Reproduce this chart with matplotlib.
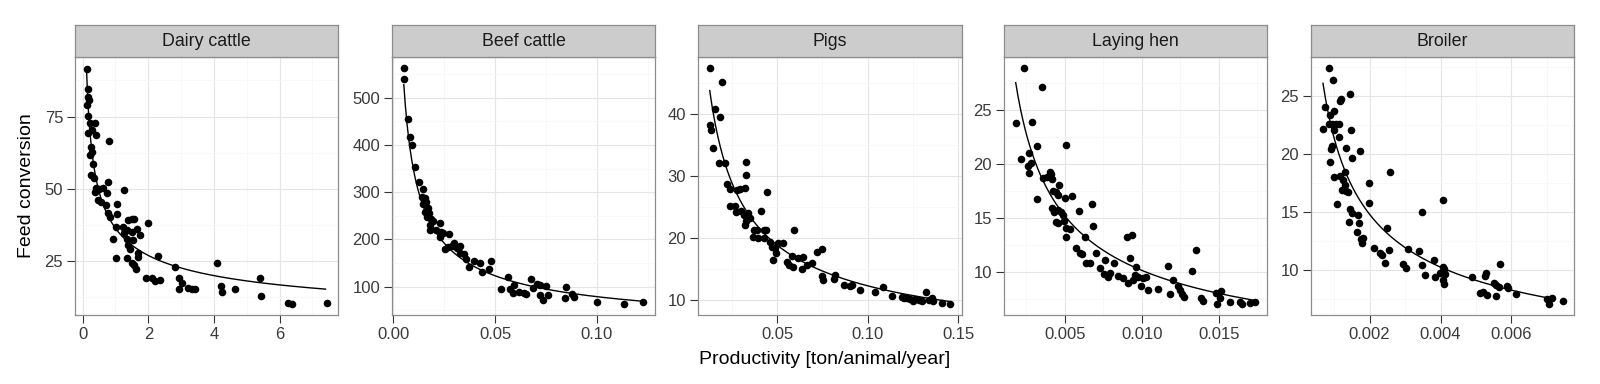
import numpy as np
import matplotlib
matplotlib.use("Agg")
import matplotlib.pyplot as plt
from matplotlib.ticker import MultipleLocator

plt.rcParams['font.family'] = ['Liberation Sans', 'DejaVu Sans']

#%% data
titles = ['Dairy cattle', 'Beef cattle', 'Pigs', 'Laying hen', 'Broiler']

dairy_x = [0.12, 0.17, 0.15, 0.2, 0.14, 0.17, 0.22, 0.38, 0.17, 0.27, 0.41, 0.81, 0.24, 0.27, 0.22,
           0.31, 0.24, 0.35, 0.78, 1.27, 0.41, 0.5, 0.63, 0.38, 0.73, 0.48, 0.55, 1.04, 0.71, 0.78,
           1.04, 0.83, 2.0, 1.01, 1.24, 1.5, 1.55, 1.39, 1.65, 1.34, 1.5, 1.75, 1.26, 1.34, 0.92,
           1.53, 1.39, 1.45, 1.7, 2.31, 1.02, 1.36, 1.68, 1.5, 4.09, 1.55, 2.82, 1.63, 1.93, 2.11,
           2.21, 2.36, 2.95, 3.02, 2.92, 3.22, 3.33, 3.41, 4.21, 4.24, 4.65, 5.41, 5.43, 6.25, 6.38, 7.43]
dairy_y = [91.4, 84.4, 81.9, 80.8, 78.9, 75.2, 72.7, 72.9, 69.5, 70.4, 68.7, 66.7, 64.6, 62.9, 61.8,
           58.6, 54.8, 53.7, 52.5, 49.7, 50.2, 49.9, 50.2, 49.1, 48.5, 46.2, 45.6, 44.8, 44.5, 41.8,
           41.4, 40.2, 38.4, 37.0, 36.7, 39.5, 39.5, 39.3, 36.1, 35.8, 35.3, 34.1, 34.7, 32.6, 32.6,
           32.4, 30.6, 29.1, 27.8, 26.8, 26.0, 26.0, 26.4, 24.3, 24.3, 23.7, 23.2, 22.2, 19.4, 19.4,
           18.3, 18.7, 19.4, 17.6, 15.3, 15.9, 15.6, 15.3, 16.5, 14.3, 15.6, 19.1, 13.0, 10.5, 10.3, 10.5]

beef_x = [0.0054, 0.0052, 0.0072, 0.0082, 0.0093, 0.0106, 0.0126, 0.0145, 0.0142, 0.0154, 0.0163,
          0.0147, 0.017, 0.0158, 0.0175, 0.0167, 0.0186, 0.0196, 0.018, 0.0229, 0.0183, 0.0208,
          0.0235, 0.0245, 0.0229, 0.0273, 0.0252, 0.0268, 0.0297, 0.0289, 0.0314, 0.033, 0.0327,
          0.0346, 0.0359, 0.0371, 0.0395, 0.0425, 0.0436, 0.0469, 0.048, 0.0531, 0.0562, 0.0575,
          0.0588, 0.0595, 0.0616, 0.0641, 0.0654, 0.0676, 0.0686, 0.0706, 0.0722, 0.0735, 0.0752,
          0.0758, 0.0722, 0.0842, 0.0848, 0.0877, 0.0889, 0.1, 0.1134, 0.1229]
beef_y = [562, 539, 455, 416, 400, 354, 321, 307, 290, 287, 280, 275, 266, 259, 255, 248, 243, 238,
          231, 235, 219, 220, 216, 213, 206, 212, 179, 183, 193, 186, 181, 187, 171, 169, 158, 142,
          155, 151, 130, 137, 154, 96, 121, 96, 87, 104, 89, 87, 84, 116, 97, 106, 83, 72, 101, 83,
          104, 75, 99, 85, 78, 68, 63, 67]

pigs_x = [0.0127, 0.0195, 0.0154, 0.0186, 0.013, 0.0136, 0.0145, 0.0178, 0.021, 0.033, 0.0326,
          0.0223, 0.0241, 0.0278, 0.0293, 0.0321, 0.0445, 0.0238, 0.0265, 0.0274, 0.0302, 0.0315,
          0.0339, 0.0349, 0.0326, 0.0321, 0.0408, 0.0371, 0.0389, 0.0426, 0.0437, 0.0367, 0.0395,
          0.0426, 0.0459, 0.0469, 0.0487, 0.0506, 0.0533, 0.0496, 0.0478, 0.0552, 0.0567, 0.058,
          0.0585, 0.0592, 0.0616, 0.0635, 0.0644, 0.0663, 0.069, 0.0718, 0.0746, 0.0746, 0.0751,
          0.082, 0.0814, 0.087, 0.0903, 0.0912, 0.0958, 0.1042, 0.1084, 0.1134, 0.119, 0.1199,
          0.1217, 0.1236, 0.1251, 0.1264, 0.1283, 0.1301, 0.1325, 0.1338, 0.1356, 0.1361, 0.1411, 0.1457]
pigs_y = [47.4, 45.2, 40.8, 39.6, 38.3, 37.4, 34.6, 32.1, 32.2, 32.3, 30.2, 28.7, 28.0, 27.8, 27.9,
          28.1, 27.5, 25.2, 25.2, 24.3, 24.4, 23.7, 24.0, 23.2, 22.7, 22.1, 24.4, 21.3, 21.4, 21.4,
          21.3, 20.2, 20.0, 20.1, 19.4, 18.6, 18.4, 19.2, 19.2, 17.7, 16.5, 16.2, 15.7, 17.1, 15.4,
          21.3, 16.8, 15.0, 17.0, 15.7, 16.0, 17.8, 18.2, 13.9, 13.2, 14.1, 13.5, 12.5, 12.3, 12.5,
          11.7, 11.4, 12.2, 10.7, 10.6, 10.3, 10.4, 10.2, 9.9, 10.2, 10.0, 9.9, 11.4, 10.0, 10.3,
          9.9, 9.5, 9.4]

hen_x = [0.00232, 0.00351, 0.0018, 0.00288, 0.00216, 0.00264, 0.00281, 0.0026, 0.00266, 0.00318,
         0.00509, 0.00318, 0.00357, 0.00383, 0.00405, 0.00411, 0.00418, 0.00422, 0.00439, 0.00461,
         0.00457, 0.00498, 0.00545, 0.00418, 0.00426, 0.00455, 0.00476, 0.00487, 0.00439, 0.00455,
         0.00491, 0.00509, 0.00535, 0.00504, 0.00591, 0.00628, 0.00677, 0.00682, 0.00574, 0.006,
         0.00613, 0.00634, 0.0066, 0.00703, 0.00725, 0.00751, 0.00758, 0.00779, 0.0079, 0.00816,
         0.00844, 0.00877, 0.00903, 0.00937, 0.00924, 0.00909, 0.00942, 0.00963, 0.00953, 0.00974,
         0.00996, 0.01007, 0.01028, 0.01039, 0.01104, 0.01169, 0.01184, 0.01201, 0.01234, 0.01245,
         0.01262, 0.01271, 0.01327, 0.01353, 0.01385, 0.01396, 0.01483, 0.01511, 0.01489, 0.01504,
         0.0157, 0.01638, 0.01652, 0.01699, 0.01736]
hen_y = [28.87, 27.1, 23.76, 23.86, 20.5, 20.98, 20.12, 19.83, 19.12, 21.69, 21.72, 16.71, 18.66,
         18.81, 19.28, 19.06, 18.6, 17.52, 17.42, 18.04, 17.11, 16.8, 17.0, 15.88, 15.57, 15.72,
         15.57, 15.26, 14.64, 14.55, 14.73, 14.05, 13.93, 13.18, 15.66, 13.18, 16.28, 14.27, 12.16,
         11.76, 11.64, 10.77, 10.83, 11.7, 10.31, 9.78, 11.08, 9.47, 9.91, 10.77, 9.6, 9.38, 13.18,
         13.4, 11.24, 8.92, 9.23, 10.4, 9.69, 9.47, 8.67, 9.38, 9.53, 8.3, 8.39, 10.56, 7.9, 9.23,
         8.67, 8.3, 7.93, 7.62, 10.06, 12.0, 7.58, 7.31, 7.99, 8.24, 7.0, 7.52, 7.15, 7.21, 7.0,
         7.12, 7.21]

broiler_x = [0.000864, 0.000967, 0.001437, 0.001192, 0.001155, 0.000732, 0.000995, 0.000892,
             0.000845, 0.000939, 0.001061, 0.001146, 0.000676, 0.000995, 0.001484, 0.001127,
             0.000939, 0.000911, 0.001333, 0.001718, 0.001502, 0.000892, 0.000995, 0.001174,
             0.001296, 0.001249, 0.001315, 0.001221, 0.001343, 0.00138, 0.002582, 0.001972,
             0.004066, 0.00108, 0.001991, 0.003474, 0.001455, 0.001502, 0.001671, 0.001408,
             0.001709, 0.001643, 0.002488, 0.001756, 0.001812, 0.001784, 0.002113, 0.002282,
             0.002347, 0.002535, 0.002441, 0.002939, 0.003023, 0.00308, 0.00338, 0.003474,
             0.003568, 0.003822, 0.00385, 0.003972, 0.004066, 0.004103, 0.004131, 0.004066,
             0.004085, 0.004883, 0.005117, 0.005192, 0.005258, 0.005277, 0.005305, 0.005512,
             0.005568, 0.005559, 0.005662, 0.005681, 0.005887, 0.005915, 0.006131, 0.007014,
             0.00707, 0.007136, 0.007446]
broiler_y = [27.38, 26.38, 25.14, 24.71, 24.57, 24.02, 23.74, 23.37, 22.59, 22.59, 22.59, 22.59,
             22.13, 22.07, 22.07, 21.5, 20.7, 20.41, 20.55, 20.24, 19.64, 19.32, 18.0, 18.15, 18.49,
             17.77, 17.34, 16.91, 16.86, 16.77, 18.46, 17.54, 16.05, 15.71, 15.77, 14.99, 15.25,
             14.91, 14.76, 14.19, 14.1, 13.27, 13.67, 12.67, 12.75, 12.38, 11.89, 11.46, 11.32,
             11.75, 10.66, 10.52, 10.23, 11.81, 11.67, 10.46, 9.6, 10.89, 9.4, 9.8, 10.32, 10.09,
             9.69, 9.17, 8.83, 9.46, 8.02, 8.17, 9.51, 9.74, 7.88, 8.94, 8.74, 7.79, 8.54, 10.55,
             8.65, 8.45, 7.96, 7.53, 7.1, 7.64, 7.39]

# power-law fit y = a * x^b
fit_a = [36.4, 17.93, 3.0, 0.687, 0.557]
fit_b = [-0.43, -0.643, -0.614, -0.584, -0.528]
fit_xmin = [0.12, 0.0052, 0.0127, 0.0018, 0.000685]
fit_xmax = [7.4, 0.1229, 0.1457, 0.0172, 0.00709]

xs = [dairy_x, beef_x, pigs_x, hen_x, broiler_x]
ys = [dairy_y, beef_y, pigs_y, hen_y, broiler_y]

x_lims = [(-0.234, 7.78), (-0.0006, 0.1286), (0.0062, 0.1522), (0.00104, 0.01812), (0.000347, 0.007765)]
y_lims = [(6.45, 95.6), (40, 586), (7.63, 49.2), (5.98, 29.92), (6.16, 28.36)]
x_major = [2, 0.05, 0.05, 0.005, 0.002]
y_major = [25, 100, 10, 5, 5]
x_fmt = ['{:.0f}', '{:.2f}', '{:.2f}', '{:.3f}', '{:.3f}']

#%% layout in pixels (1600 x 384)
W, H = 1600, 384
panel_lr = [(75, 338), (392, 655), (698, 962), (1004, 1267), (1311, 1574)]
strip_top, panel_top, panel_bot = 25, 57, 315

fig = plt.figure(figsize=(W / 100, H / 100), dpi=100)

for i in range(5):
    l, r = panel_lr[i]
    ax = fig.add_axes([l / W, 1 - panel_bot / H, (r - l) / W, (panel_bot - panel_top) / H])
    ax.set_xlim(*x_lims[i])
    ax.set_ylim(*y_lims[i])
    ax.xaxis.set_major_locator(MultipleLocator(x_major[i]))
    ax.xaxis.set_minor_locator(MultipleLocator(x_major[i] / 2))
    ax.yaxis.set_major_locator(MultipleLocator(y_major[i]))
    ax.yaxis.set_minor_locator(MultipleLocator(y_major[i] / 2))
    fmt = x_fmt[i]
    ax.xaxis.set_major_formatter(plt.FuncFormatter(lambda v, p, f=fmt: f.format(v)))
    ax.yaxis.set_major_formatter(plt.FuncFormatter(lambda v, p: '{:g}'.format(v)))
    ax.grid(which='major', color='#e5e5e5', lw=0.8, zorder=0)
    ax.grid(which='minor', color='#f7f7f7', lw=0.6, zorder=0)
    ax.set_axisbelow(True)
    for s in ax.spines.values():
        s.set_color('#8c8c8c')
        s.set_linewidth(0.9)
    ax.tick_params(which='major', length=5.5, width=0.8, color='#333333', labelsize=12,
                   labelcolor='#3a3a3a', pad=3)
    ax.tick_params(which='minor', length=0)

    ax.scatter(xs[i], ys[i], s=30, color='black', linewidths=0, zorder=3)
    xc = np.linspace(fit_xmin[i], fit_xmax[i], 300)
    ax.plot(xc, fit_a[i] * xc ** fit_b[i], color='black', lw=1.0, zorder=4)

    sax = fig.add_axes([l / W, 1 - panel_top / H, (r - l) / W, (panel_top - strip_top) / H])
    sax.set_facecolor('#cccccc')
    sax.set_xticks([])
    sax.set_yticks([])
    for s in sax.spines.values():
        s.set_color('#8c8c8c')
        s.set_linewidth(0.9)
    sax.text(0.5, 0.48, titles[i], ha='center', va='center', fontsize=12.8,
             color='#1a1a1a', transform=sax.transAxes)

fig.text((75 + 1574) / 2 / W, 1 - 364 / H, 'Productivity [ton/animal/year]',
         ha='center', va='baseline', fontsize=14)
fig.text(27 / W, 1 - (panel_top + panel_bot) / 2 / H, 'Feed conversion',
         ha='center', va='center', rotation=90, fontsize=14)

fig.savefig('out.png', dpi=100)
